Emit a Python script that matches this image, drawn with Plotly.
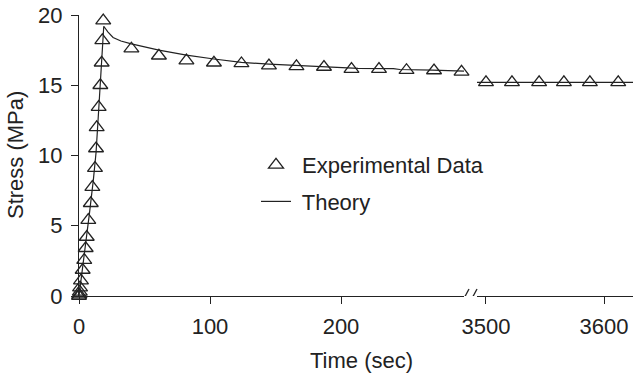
import plotly.graph_objects as go

# ---------------- data ----------------
# Experimental data, left panel (loading + early relaxation)
exp_t_left = [0.0, 0.3, 0.6, 0.8, 1.5, 2.8, 4.0, 5.1, 5.9, 7.1, 9.0, 10.2, 12.2, 13.0,
              13.5, 15.0, 16.3, 17.3, 17.8, 18.5,
              40, 61, 82, 103, 124, 145, 166, 187, 208, 229, 250, 271, 292]
exp_s_left = [0.0, 0.1, 0.3, 0.6, 1.1, 1.85, 2.56, 3.4, 4.2, 5.4, 6.6, 7.75, 9.1, 10.5,
              12.0, 13.45, 15.0, 16.6, 18.2, 19.6,
              17.6, 17.1, 16.75, 16.6, 16.55, 16.4, 16.35, 16.3, 16.15, 16.15, 16.07, 16.05, 15.95]
# Experimental data, right panel (long-time)
exp_t_right = [3500, 3522, 3545, 3566, 3588, 3612]
exp_s_right = [15.2, 15.2, 15.2, 15.2, 15.2, 15.2]

# Theory curve
th_t_left = [0, 2, 5, 8, 11, 13, 15, 17, 18.9, 22, 26, 32, 40, 61, 82, 103, 124, 145,
             166, 185, 213, 240, 245, 270, 280, 285, 294]
th_s_left = [0, 1.4, 3.6, 5.9, 8.3, 10.2, 13.2, 16.3, 19.2, 18.8, 18.4, 18.15, 17.95,
             17.5, 17.15, 16.87, 16.63, 16.5, 16.4, 16.35, 16.2, 16.18, 16.12, 16.08,
             16.05, 16.0, 16.0]
th_t_right = [3492, 3625]
th_s_right = [15.2, 15.2]

x_ticks_left = [0, 100, 200]
x_ticks_right = [3500, 3600]
y_ticks = [0, 5, 10, 15, 20]

# ---------------- figure ----------------
INK = "#222222"
FONT = "Liberation Sans, Arial, sans-serif"
FS = 22

marker = dict(symbol="triangle-up-open", size=13, color=INK, line=dict(color=INK, width=1.3))
line = dict(color=INK, width=1.2)

fig = go.Figure()
fig.add_trace(go.Scatter(x=exp_t_left, y=exp_s_left, mode="markers", marker=marker,
                         name=" Experimental Data", legendgroup="a", cliponaxis=False,
                         xaxis="x", yaxis="y"))
fig.add_trace(go.Scatter(x=th_t_left, y=th_s_left, mode="lines", line=line,
                         name=" Theory", legendgroup="b", cliponaxis=False,
                         xaxis="x", yaxis="y"))
fig.add_trace(go.Scatter(x=exp_t_right, y=exp_s_right, mode="markers", marker=marker,
                         showlegend=False, cliponaxis=False, xaxis="x2", yaxis="y"))
fig.add_trace(go.Scatter(x=th_t_right, y=th_s_right, mode="lines", line=line,
                         showlegend=False, cliponaxis=False, xaxis="x2", yaxis="y"))

W, H = 634, 378
L, R, T, B = 79, 1, 15, 82
pw = W - L - R
d1_end = (464 - L) / pw
d2_start = (477 - L) / pw

axis_common = dict(showline=True, linecolor=INK, linewidth=1.2, ticks="outside",
                   ticklen=7, tickwidth=1.2, tickcolor=INK, showgrid=False,
                   zeroline=False, tickfont=dict(family=FONT, size=FS, color=INK))

fig.update_layout(
    width=W, height=H,
    margin=dict(l=L, r=R, t=T, b=B),
    paper_bgcolor="white", plot_bgcolor="white",
    font=dict(family=FONT, size=FS, color=INK),
    xaxis=dict(domain=[0, d1_end], range=[0, (464 - 79) / 1.31],
               tickvals=x_ticks_left, anchor="y", ticklabelstandoff=3, **axis_common),
    xaxis2=dict(domain=[d2_start, 1], range=[3500 - (486 - 477) / 1.183, 3600 + (633 - 604) / 1.183],
                tickvals=x_ticks_right, anchor="y", ticklabelstandoff=3, **axis_common),
    yaxis=dict(range=[0, 20], tickvals=y_ticks, anchor="x", ticklabelstandoff=4, **axis_common),
    showlegend=True,
    legend=dict(x=(256 - L) / pw, y=(296 - 144) / 281, xanchor="left", yanchor="top",
                font=dict(family=FONT, size=FS, color=INK), bgcolor="rgba(0,0,0,0)",
                tracegroupgap=5, traceorder="grouped"),
    annotations=[
        dict(text="Stress (MPa)", textangle=-90, xref="paper", yref="paper",
             x=(15 - L) / pw, y=(296 - 155) / 281, xanchor="center", yanchor="middle",
             showarrow=False, font=dict(family=FONT, size=FS, color=INK)),
        dict(text="Time (sec)", xref="paper", yref="paper",
             x=(361 - L) / pw, y=(296 - 360) / 281, xanchor="center", yanchor="middle",
             showarrow=False, font=dict(family=FONT, size=FS, color=INK)),
    ],
    shapes=[
        dict(type="line", xref="paper", yref="y", xsizemode="pixel", ysizemode="pixel",
             xanchor=d1_end, yanchor=0, x0=-3, y0=-8, x1=5, y1=7,
             line=dict(color=INK, width=1.3)),
        dict(type="line", xref="paper", yref="y", xsizemode="pixel", ysizemode="pixel",
             xanchor=d1_end, yanchor=0, x0=5, y0=-8, x1=13, y1=7,
             line=dict(color=INK, width=1.3)),
    ],
)

fig.write_html("out.html")
